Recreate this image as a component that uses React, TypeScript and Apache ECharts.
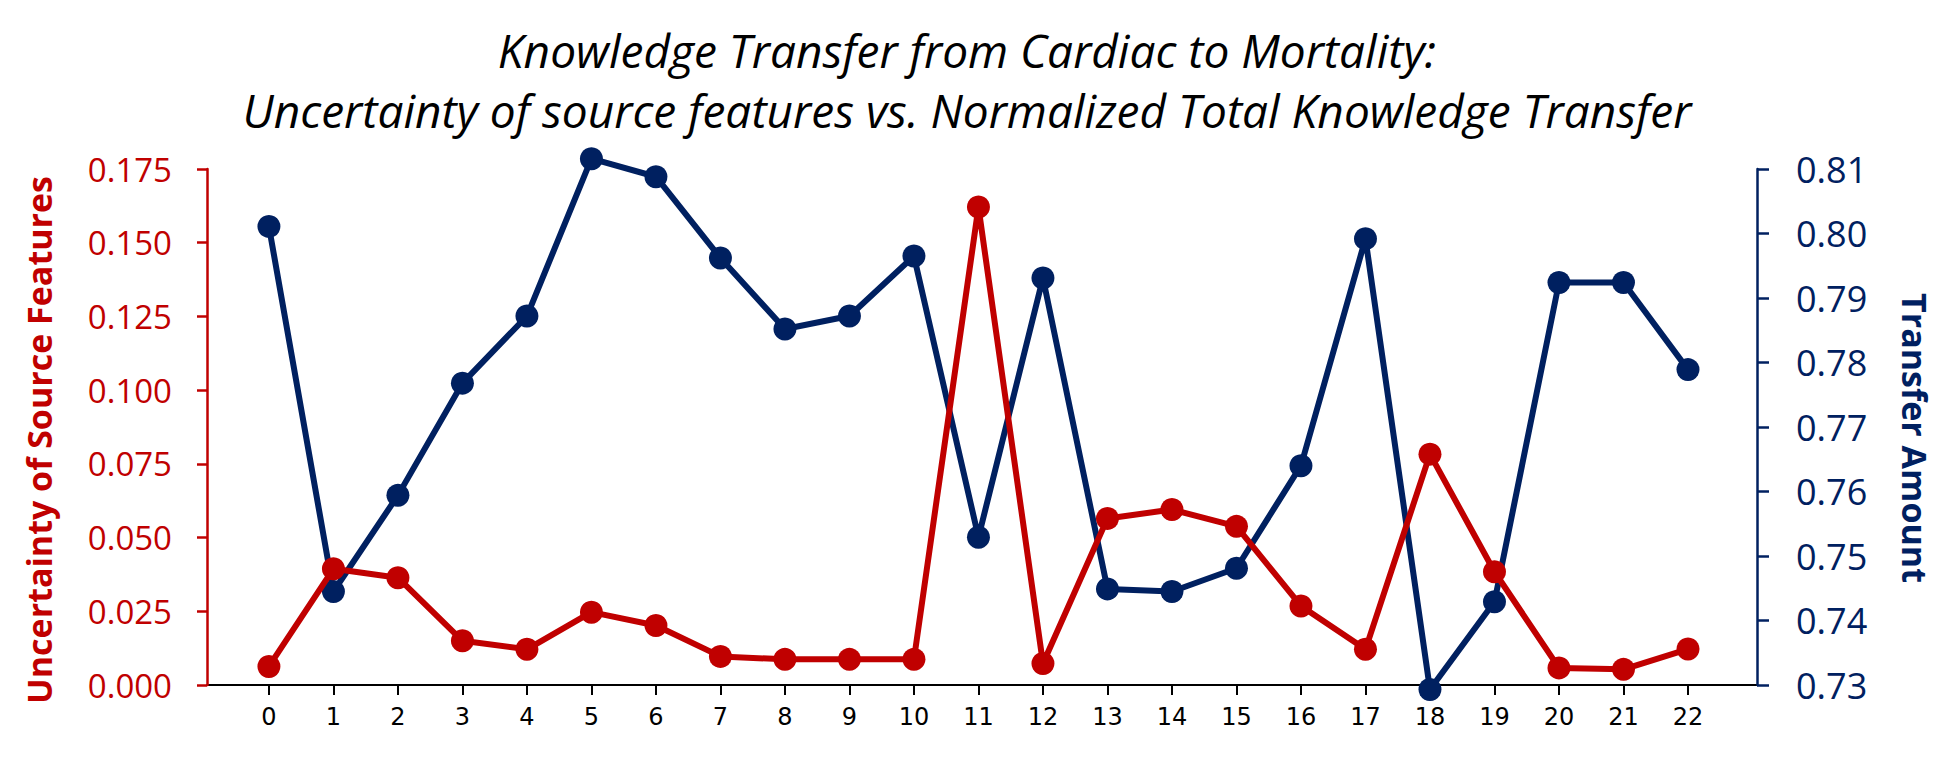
import React, { useEffect, useRef } from "react";
import * as echarts from "echarts";

const categories: string[] = ["0","1","2","3","4","5","6","7","8","9","10","11","12","13","14","15","16","17","18","19","20","21","22"];
const uncertainty: number[] = [0.0063, 0.0394, 0.0364, 0.0150, 0.0121, 0.0247, 0.0202, 0.0097, 0.0087, 0.0087, 0.0087, 0.1621, 0.0073, 0.0565, 0.0595, 0.0538, 0.0268, 0.0121, 0.0783, 0.0384, 0.0058, 0.0053, 0.0122];
const transfer: number[] = [0.8011, 0.7445, 0.7594, 0.7768, 0.7872, 0.8116, 0.8088, 0.7962, 0.7852, 0.7872, 0.7965, 0.7529, 0.7931, 0.7449, 0.7445, 0.7481, 0.7640, 0.7992, 0.7293, 0.7429, 0.7924, 0.7924, 0.7789];
const titleLines: string[] = [
  "Knowledge Transfer from Cardiac to Mortality:",
  "Uncertainty of source features vs. Normalized Total Knowledge Transfer",
];
const leftName = "Uncertainty of Source Features";
const rightName = "Transfer Amount";

const RED = "#C00000";
const NAVY = "#002060";

export default function App() {
  const ref = useRef<HTMLDivElement>(null);
  useEffect(() => {
    if (!ref.current) return;
    const chart = echarts.init(ref.current, undefined, { renderer: "svg" });
    const idx = categories.map((_, i) => i);
    chart.setOption({
      animation: false,
      backgroundColor: "#ffffff",
      title: {
        text: titleLines.join("\n"),
        left: 962,
        top: 15,
        textAlign: "center",
        textStyle: {
          fontFamily: "Open Sans",
          fontStyle: "italic",
          fontWeight: "normal",
          fontSize: 46,
          lineHeight: 60,
          color: "#000000",
        },
      },
      grid: { left: 207, right: 197, top: 169, bottom: 91, outerBoundsMode: "none" },
      xAxis: {
        type: "value",
        min: -0.96,
        max: 23.07,
        splitLine: { show: false },
        axisLine: { show: true, onZero: false, lineStyle: { color: "#000000", width: 2 } },
        axisTick: { show: true, customValues: idx, length: 10, lineStyle: { color: "#000000", width: 2 } },
        axisLabel: {
          customValues: idx,
          formatter: (v: number) => categories[Math.round(v)] ?? "",
          fontFamily: "DejaVu Sans",
          fontSize: 24,
          color: "#000000",
          margin: 20,
        },
      },
      yAxis: [
        {
          type: "value",
          position: "left",
          min: 0,
          max: 0.175,
          interval: 0.025,
          splitLine: { show: false },
          axisLine: { show: true, onZero: false, lineStyle: { color: RED, width: 2.5 } },
          axisTick: { show: true, inside: false, length: 10, lineStyle: { color: RED, width: 2.5 } },
          axisLabel: {
            formatter: (v: number) => v.toFixed(3),
            fontFamily: "Open Sans",
            fontSize: 33,
            color: RED,
            margin: 35,
          },
          z: 5,
        },
        {
          type: "value",
          position: "right",
          min: 0.73,
          max: 0.81,
          interval: 0.01,
          splitLine: { show: false },
          axisLine: { show: true, onZero: false, lineStyle: { color: NAVY, width: 2.5 } },
          axisTick: { show: true, inside: false, length: 12, lineStyle: { color: NAVY, width: 2.5 } },
          axisLabel: {
            formatter: (v: number) => v.toFixed(2),
            fontFamily: "Open Sans",
            fontSize: 36,
            color: NAVY,
            margin: 39,
          },
          z: 5,
        },
      ],
      graphic: [
        {
          type: "text",
          x: 39,
          y: 440,
          rotation: Math.PI / 2,
          style: {
            text: leftName,
            fontFamily: "Open Sans",
            fontWeight: "bold",
            fontSize: 34,
            fill: RED,
            textAlign: "center",
            textVerticalAlign: "middle",
          },
        },
        {
          type: "text",
          x: 1915,
          y: 438,
          rotation: -Math.PI / 2,
          style: {
            text: rightName,
            fontFamily: "Open Sans",
            fontWeight: "bold",
            fontSize: 34,
            fill: NAVY,
            textAlign: "center",
            textVerticalAlign: "middle",
          },
        },
      ],
      series: [
        {
          name: rightName,
          type: "line",
          yAxisIndex: 1,
          data: transfer.map((v, i) => [i, v]),
          symbol: "circle",
          symbolSize: 23,
          clip: false,
          lineStyle: { color: NAVY, width: 6 },
          itemStyle: { color: NAVY },
          z: 2,
        },
        {
          name: leftName,
          type: "line",
          yAxisIndex: 0,
          data: uncertainty.map((v, i) => [i, v]),
          symbol: "circle",
          symbolSize: 23,
          clip: false,
          lineStyle: { color: RED, width: 6 },
          itemStyle: { color: RED },
          z: 3,
        },
      ],
    });
    return () => chart.dispose();
  }, []);
  return (
    <div
      ref={ref}
      style={{ position: "absolute", left: 0, top: 0, width: 1954, height: 776 }}
    />
  );
}
